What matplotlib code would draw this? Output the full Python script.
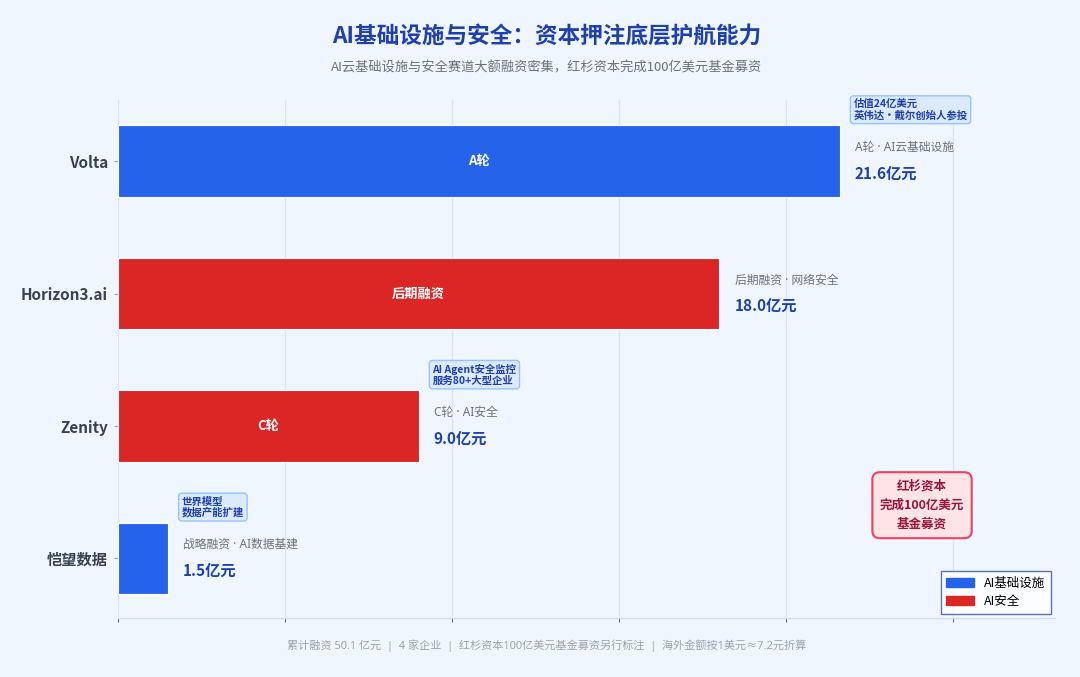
import matplotlib
matplotlib.use("Agg")
import matplotlib.pyplot as plt
from matplotlib.patches import Patch

plt.rcParams['font.family'] = ['Noto Sans CJK SC', 'DejaVu Sans']

companies = ["Volta", "Horizon3.ai", "Zenity", "恺望数据"]
amounts = [21.6, 18.0, 9.0, 1.5]
sectors = ["AI基础设施", "AI安全", "AI安全", "AI基础设施"]
rounds = ["A轮", "后期融资", "C轮", ""]
details = ["A轮 · AI云基础设施", "后期融资 · 网络安全", "C轮 · AI安全", "战略融资 · AI数据基建"]
notes = ["估值24亿美元\n英伟达·戴尔创始人参投", None, "AI Agent安全监控\n服务80+大型企业", "世界模型\n数据产能扩建"]
xticks = [0, 5, 10, 15, 20, 25]

colors = {"AI基础设施": "#2563eb", "AI安全": "#dc2626"}
bg = "#eff6ff"
mixed = ['Noto Sans', 'Noto Sans CJK SC']

fig = plt.figure(figsize=(10.8, 6.77), dpi=100, facecolor=bg)
ax = fig.add_axes([0.109, 0.087, 0.868, 0.765], facecolor=bg)

ypos = list(range(len(companies)))
ax.barh(ypos, amounts, height=0.54, color=[colors[s] for s in sectors],
        edgecolor="white", linewidth=0.8, zorder=3)
ax.set_ylim(3.45, -0.46)
ax.set_xlim(0, 28.05)
ax.set_xticks(xticks)
ax.set_xticklabels([])
ax.grid(axis="x", color="#dbe3f3", linewidth=0.9, zorder=0)
ax.set_yticks(ypos)
ax.set_yticklabels(companies, fontsize=11, fontweight="bold", color="#374151")
ax.tick_params(axis="y", length=3, color="#9ca3af", pad=4)
ax.tick_params(axis="x", length=3, color="#6b7280", direction="out")
for s in ["top", "right", "left"]:
    ax.spines[s].set_visible(False)
ax.spines["bottom"].set_color("#d1d9ea")

for i, (amt, rd, det, note) in enumerate(zip(amounts, rounds, details, notes)):
    if rd:
        ax.text(amt / 2, i, rd, ha="center", va="center", color="white",
                fontsize=9.5, fontweight="bold", zorder=4)
    ax.annotate(det, (amt, i), xytext=(11, 10), textcoords="offset points",
                ha="left", va="center", fontsize=8.5, color="#6b7280", family=mixed)
    ax.annotate(f"{amt:.1f}亿元", (amt, i), xytext=(11, -9), textcoords="offset points",
                ha="left", va="center", fontsize=11, fontweight="bold", color="#1e40af")
    if note:
        ax.annotate(note, (amt, i), xytext=(10, 37), textcoords="offset points",
                    ha="left", va="center", fontsize=7.5, fontweight="bold", color="#1e40af",
                    linespacing=1.1,
                    bbox=dict(boxstyle="round,pad=0.3", fc="#dbeafe", ec="#93c5fd", lw=1))

ax.text(0.858, 0.218, "红杉资本\n完成100亿美元\n基金募资", transform=ax.transAxes,
        ha="center", va="center", fontsize=9, fontweight="bold", color="#9f1239",
        linespacing=1.6,
        bbox=dict(boxstyle="round,pad=0.6", fc="#ffe4e6", ec="#f43f5e", lw=1.5))

handles = [Patch(color=colors["AI基础设施"], label="AI基础设施"),
           Patch(color=colors["AI安全"], label="AI安全")]
leg = ax.legend(handles=handles, loc="lower right", fontsize=9, frameon=True,
                fancybox=False, borderpad=0.45, handlelength=2.2, labelspacing=0.4,
                borderaxespad=0.35, bbox_to_anchor=(1.0, 0.0))
leg.get_frame().set_edgecolor("#3b4fa0")
leg.get_frame().set_facecolor("white")
leg.get_frame().set_linewidth(1)

fig.text(0.506, 0.947, "AI基础设施与安全：资本押注底层护航能力", ha="center", va="center",
         fontsize=16.3, fontweight="bold", color="#1e40af")
fig.text(0.506, 0.900, "AI云基础设施与安全赛道大额融资密集，红杉资本完成100亿美元基金募资",
         ha="center", va="center", fontsize=9.5, color="#6b7280")
fig.text(0.506, 0.046, "累计融资 50.1 亿元  |  4 家企业  |  红杉资本100亿美元基金募资另行标注  |  海外金额按1美元≈7.2元折算",
         ha="center", va="center", fontsize=8, color="#9ca3af", family=mixed)

fig.savefig("out.png", dpi=100, facecolor=bg)
